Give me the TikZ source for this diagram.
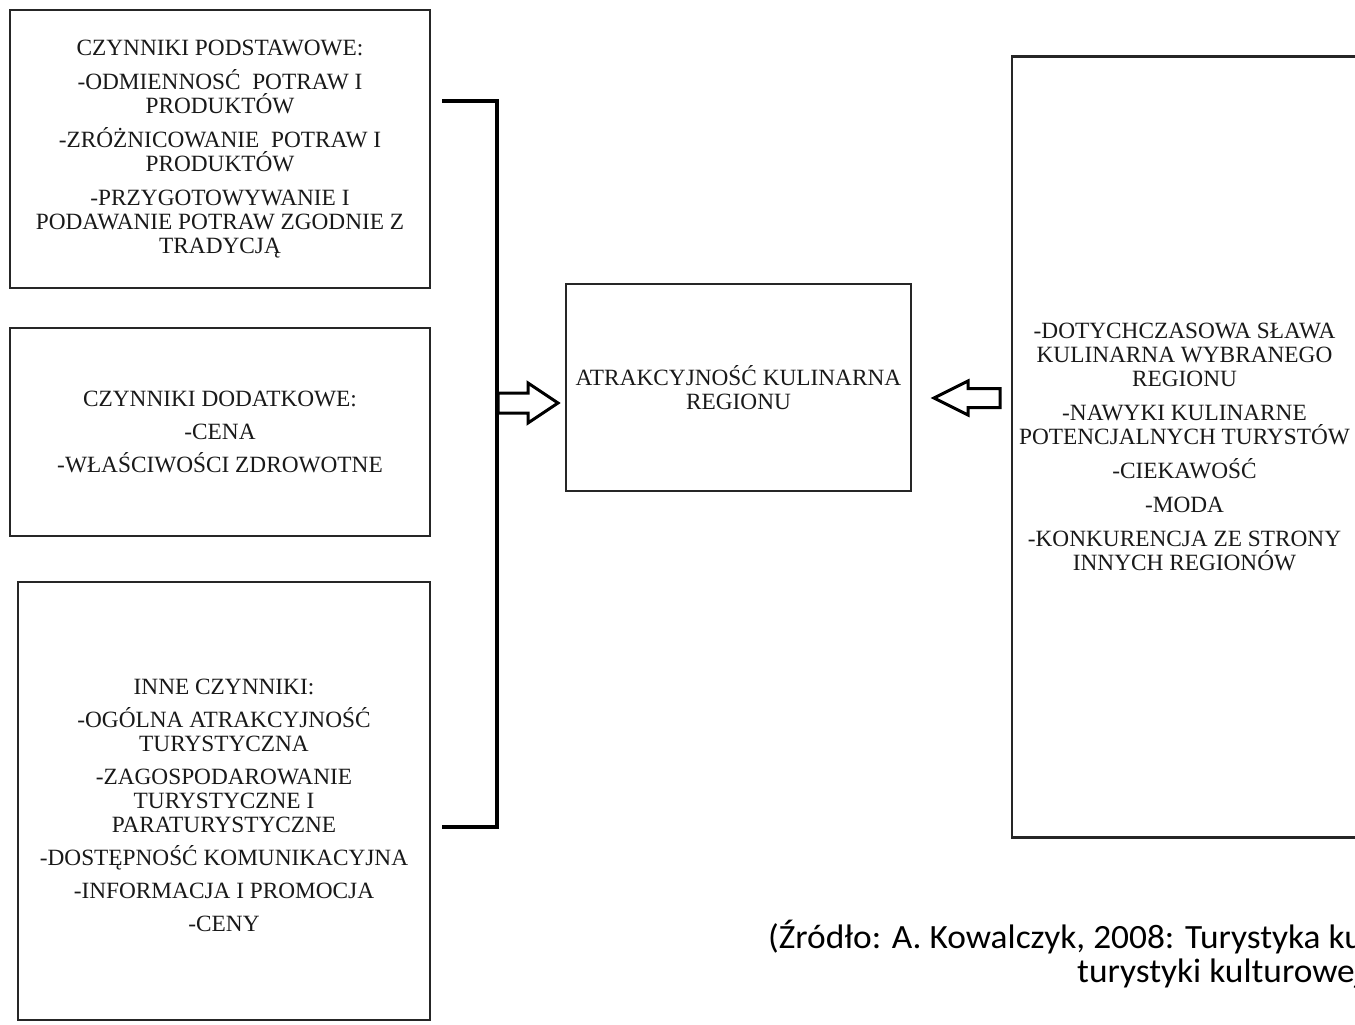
\documentclass[tikz,border=0pt]{standalone}
\usepackage{fontspec}
\setmainfont{Liberation Serif}
\newfontfamily\capfont[FakeStretch=1.04]{Carlito}
\newcommand\boxfont{\fontsize{23.3}{24}\selectfont}
\newcommand\capsize{\fontsize{34}{34}\selectfont}
\begin{document}
\begin{tikzpicture}[x=1pt,y=-1pt,
  box/.style={draw=black!85, line width=2.6pt, inner sep=0pt, align=center, font=\boxfont, text=black!90},
  bracketline/.style={draw=black, line width=4.5pt, line join=miter},
  blockarrow/.style={draw=black, line width=3pt, line join=miter, fill=white},
  captext/.style={anchor=base west, inner sep=0pt, font=\capfont\capsize, text=black}
]
\useasboundingbox (0,0) rectangle (1355,1025);
\clip (0,0) rectangle (1355,1025);
\fill[white] (0,0) rectangle (1355,1025);

\node[box, minimum width=420pt, minimum height=278pt] (b1) at (220,149)
 {CZYNNIKI PODSTAWOWE:\\[10pt]
  -ODMIENNOSĆ\ \ POTRAW I\\PRODUKTÓW\\[10pt]
  -ZRÓŻNICOWANIE\ \ POTRAW I\\PRODUKTÓW\\[10pt]
  -PRZYGOTOWYWANIE I\\PODAWANIE POTRAW ZGODNIE Z\\TRADYCJĄ};

\node[box, minimum width=420pt, minimum height=208pt] (b2) at (220,432)
 {CZYNNIKI DODATKOWE:\\[9pt]
  -CENA\\[9pt]
  -WŁAŚCIWOŚCI ZDROWOTNE};

\coordinate (b3c) at (224,801);
\node[box, minimum width=412pt, minimum height=438pt] (b3) at (b3c) {};
\node[align=center, font=\boxfont, text=black!90, inner sep=0pt] (b3t) at (224,805)
 {INNE CZYNNIKI:\\[9pt]
  -OGÓLNA ATRAKCYJNOŚĆ\\TURYSTYCZNA\\[9pt]
  -ZAGOSPODAROWANIE\\TURYSTYCZNE I\\PARATURYSTYCZNE\\[9pt]
  -DOSTĘPNOŚĆ KOMUNIKACYJNA\\[9pt]
  -INFORMACJA I PROMOCJA\\[9pt]
  -CENY};

\node[box, minimum width=345pt, minimum height=207pt] (c) at (738.5,387.5)
 {ATRAKCYJNOŚĆ KULINARNA\\REGIONU};

\node[box, minimum width=345pt, minimum height=781pt] (r) at (1184.5,447)
 {-DOTYCHCZASOWA SŁAWA\\KULINARNA WYBRANEGO\\REGIONU\\[10pt]
  -NAWYKI KULINARNE\\POTENCJALNYCH TURYSTÓW\\[10pt]
  -CIEKAWOŚĆ\\[10pt]
  -MODA\\[10pt]
  -KONKURENCJA ZE STRONY\\INNYCH REGIONÓW};

% bracket collecting the three left boxes
\coordinate (bt) at (442,101);
\coordinate (bb) at (442,827);
\coordinate (bv) at (497,0);
\draw[bracketline] (bt) -- (bt -| bv) -- (bb -| bv) -- (bb);

% block arrow from bracket to central box
\coordinate (ra) at (498,403);
\draw[blockarrow] (ra) ++(0,-10) -- ++(30,0) -- ++(0,-10) -- ++(30,20)
  -- ++(-30,20) -- ++(0,-10) -- ++(-30,0) -- cycle;

% block arrow from right box to central box
\coordinate (la) at (934,398);
\draw[blockarrow] (la) -- ++(34,-17) -- ++(0,7.5) -- ++(32,0) -- ++(0,19)
  -- ++(-32,0) -- ++(0,7.5) -- cycle;

% source caption (cut by the right edge, as in the original)
\node[captext] (cap1) at (768,948) {(Źródło: A. Kowalczyk, 2008: Turystyka kulinarna jako forma};
\node[captext] (cap2) at (1077,982) {turystyki kulturowej)};
\end{tikzpicture}
\end{document}
